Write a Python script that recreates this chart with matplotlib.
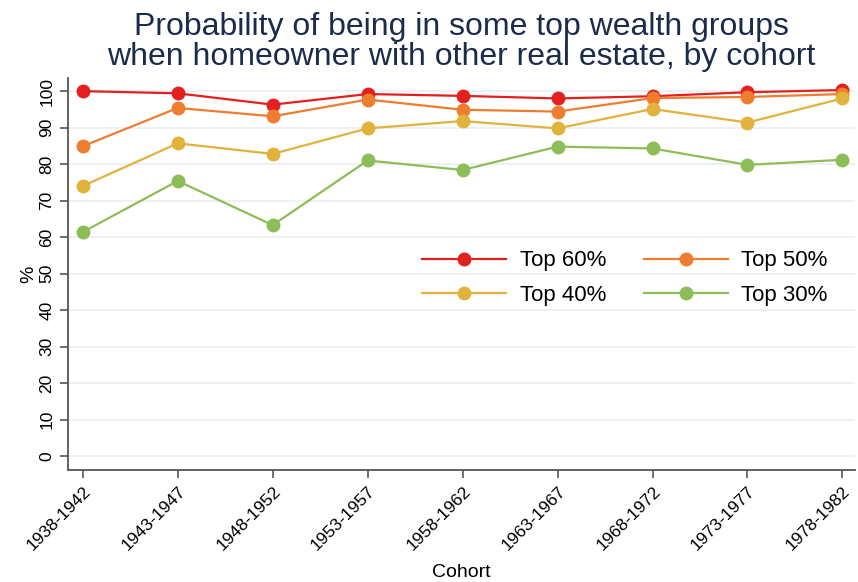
import matplotlib
matplotlib.use("Agg")
import matplotlib.pyplot as plt

plt.rcParams['font.family'] = ['Liberation Sans', 'DejaVu Sans']

# cohorts on the x axis
cohorts = ["1938-1942", "1943-1947", "1948-1952", "1953-1957", "1958-1962",
           "1963-1967", "1968-1972", "1973-1977", "1978-1982"]

# probability (%)
top60 = [100.0, 99.4, 96.3, 99.2, 98.7, 98.0, 98.6, 99.7, 100.3]
top50 = [84.9, 95.4, 93.1, 97.7, 94.9, 94.4, 98.1, 98.4, 99.2]
top40 = [74.0, 85.7, 82.8, 89.8, 91.8, 89.8, 95.1, 91.4, 98.0]
top30 = [61.4, 75.4, 63.3, 81.0, 78.4, 84.8, 84.3, 79.8, 81.2]

labels = ["Top 60%", "Top 50%", "Top 40%", "Top 30%"]
colors = ["#e2201f", "#ee7d30", "#e1b33c", "#8dbd57"]

fig, ax = plt.subplots(figsize=(8.58, 5.82), dpi=100)
fig.subplots_adjust(left=0.079, right=0.997, top=0.866, bottom=0.192)

x = list(range(len(cohorts)))
lines = []
for vals, lab, col in zip([top60, top50, top40, top30], labels, colors):
    ln, = ax.plot(x, vals, color=col, lw=1.6, marker="o", ms=9, label=lab)
    lines.append(ln)

ax.set_ylim(-3.85, 103.6)
ax.set_xlim(-0.158, 8.137)
ax.set_yticks(range(0, 101, 10))
ax.tick_params(axis="y", labelrotation=90, labelsize=12.5, length=6, width=1.2, color="#555555")
for t in ax.get_yticklabels():
    t.set_va("center")
ax.set_xticks(x)
ax.set_xticklabels(cohorts, rotation=45, ha="right", rotation_mode="anchor", fontsize=12.5)
ax.tick_params(axis="x", length=6, width=1.2, color="#555555")

ax.grid(axis="y", color="#eaeef3", lw=1.2)
ax.set_axisbelow(True)
for s in ["top", "right"]:
    ax.spines[s].set_visible(False)
for s in ["left", "bottom"]:
    ax.spines[s].set_color("#555555")
    ax.spines[s].set_linewidth(1.3)

ax.set_ylabel("%", fontsize=14, labelpad=2)
ax.set_xlabel("Cohort", fontsize=14, labelpad=8)
ax.set_title("Probability of being in some top wealth groups\nwhen homeowner with other real estate, by cohort",
             fontsize=23, color="#1c2b4a", linespacing=1.0, pad=9)

# row-wise order like the original: 60, 50 / 40, 30
order = [0, 2, 1, 3]
ax.legend([lines[i] for i in order], [labels[i] for i in order], ncol=2,
          loc="center left", bbox_to_anchor=(0.424, 0.49), frameon=False,
          fontsize=16, handlelength=3.8, handletextpad=0.6, columnspacing=1.7, labelspacing=0.6)

fig.savefig("out.png")
